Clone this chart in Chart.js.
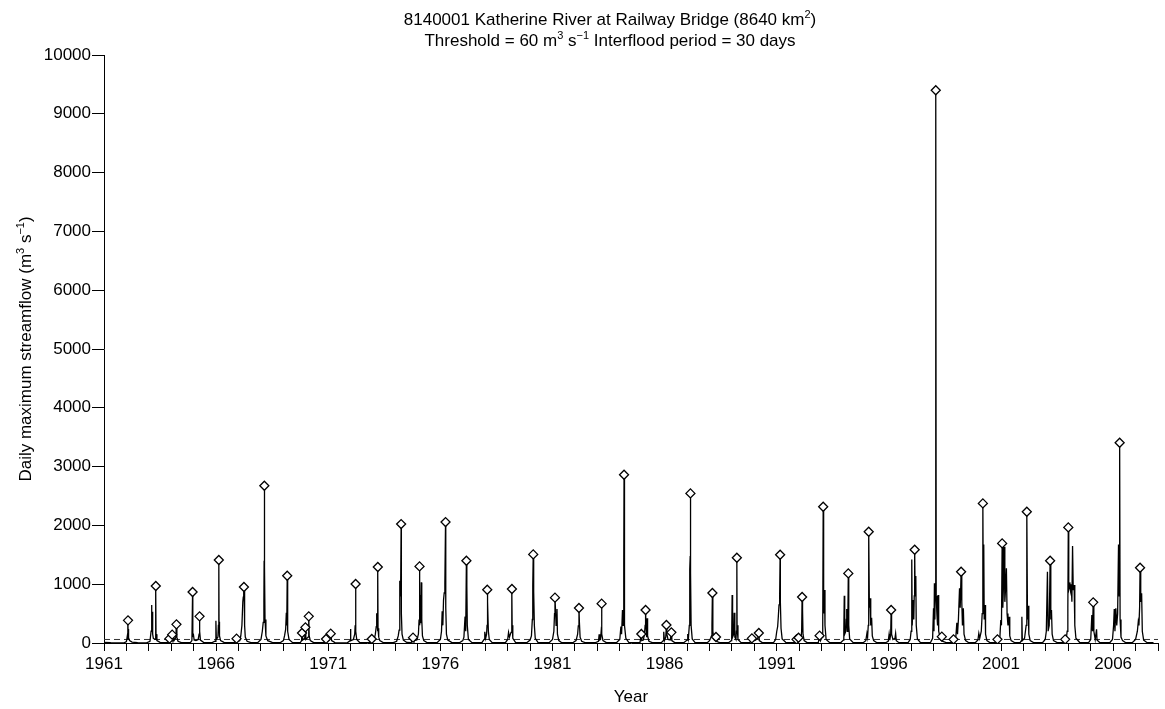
<!DOCTYPE html>
<html>
<head>
<meta charset="utf-8">
<script src="https://cdn.jsdelivr.net/npm/chart.js@4.4.1/dist/chart.umd.min.js"></script>
<style>
  html, body { margin: 0; padding: 0; background: #fff; }
  #wrap { width: 1165px; height: 709px; position: relative; }
</style>
</head>
<body>
<div id="wrap"><canvas id="streamflow"></canvas></div>
<script>
// Daily maximum streamflow, [decimal year, m3/s]
const flows1960s = [
  [1961.00, 12], [1961.30, 5], [1961.90, 3],
  [1962.00, 25], [1962.04, 120], [1962.055, 60], [1962.075, 200], [1962.09, 240], [1962.10, 90], [1962.14, 40], [1962.25, 15], [1962.50, 4],
  [1962.90, 3], [1963.05, 30], [1963.10, 200], [1963.12, 646], [1963.135, 300], [1963.15, 530], [1963.17, 150], [1963.20, 80], [1963.28, 60], [1963.30, 200], [1963.32, 150], [1963.36, 40], [1963.50, 10],
  [1963.85, 5], [1963.90, 30], [1963.94, 40], [1964.00, 60], [1964.07, 50], [1964.10, 80], [1964.12, 40], [1964.20, 90], [1964.25, 100], [1964.30, 30], [1964.45, 6],
  [1964.85, 5], [1964.92, 40], [1964.96, 120], [1964.99, 136], [1965.02, 50], [1965.10, 40], [1965.20, 60], [1965.24, 150], [1965.27, 200], [1965.30, 50], [1965.45, 8],
  [1965.80, 4], [1965.95, 30], [1965.99, 380], [1966.01, 60], [1966.08, 100], [1966.10, 300], [1966.13, 360], [1966.15, 120], [1966.20, 40], [1966.35, 10],
  [1966.80, 4], [1966.88, 30], [1966.93, 30], [1967.05, 40], [1967.10, 120], [1967.15, 300], [1967.19, 700], [1967.21, 780], [1967.22, 850], [1967.25, 900], [1967.27, 300], [1967.30, 100], [1967.38, 30], [1967.55, 6],
  [1967.85, 5], [1968.00, 60], [1968.06, 200], [1968.10, 350], [1968.13, 700], [1968.14, 1400], [1968.155, 1410], [1968.165, 1300], [1968.18, 400], [1968.22, 120], [1968.30, 40], [1968.50, 10],
  [1968.85, 4], [1969.00, 40], [1969.05, 120], [1969.10, 230], [1969.13, 515], [1969.15, 300], [1969.18, 500], [1969.20, 200], [1969.25, 60], [1969.40, 10],
  [1969.75, 4], [1969.81, 40], [1969.85, 50], [1969.95, 80],
];

const flows1970s = [
  [1970.00, 60], [1970.10, 100], [1970.15, 120], [1970.20, 40], [1970.35, 6],
  [1970.85, 5], [1970.95, 30], [1971.05, 50], [1971.15, 40], [1971.30, 6],
  [1971.85, 3], [1971.97, 40], [1971.99, 238], [1972.01, 40], [1972.12, 60], [1972.18, 150], [1972.20, 300], [1972.23, 200], [1972.27, 60], [1972.40, 8],
  [1972.85, 5], [1972.97, 40], [1973.05, 60], [1973.10, 150], [1973.14, 280], [1973.16, 505], [1973.18, 360], [1973.20, 200], [1973.22, 250], [1973.25, 100], [1973.30, 40], [1973.45, 8],
  [1973.90, 5], [1974.05, 30], [1974.12, 120], [1974.16, 220], [1974.19, 1060], [1974.21, 800], [1974.23, 1014], [1974.26, 500], [1974.29, 150], [1974.35, 50], [1974.50, 10],
  [1974.70, 6], [1974.82, 40], [1974.95, 50], [1975.02, 150], [1975.05, 400], [1975.08, 300], [1975.10, 816], [1975.12, 334], [1975.15, 1031], [1975.17, 400], [1975.20, 120], [1975.26, 40], [1975.40, 8],
  [1975.85, 5], [1976.00, 60], [1976.05, 200], [1976.08, 540], [1976.11, 300], [1976.14, 730], [1976.17, 850], [1976.20, 1003], [1976.24, 600], [1976.27, 150], [1976.33, 50], [1976.50, 10],
  [1976.85, 5], [1977.00, 40], [1977.05, 100], [1977.10, 448], [1977.13, 200], [1977.18, 975], [1977.20, 300], [1977.25, 60], [1977.40, 10],
  [1977.85, 5], [1977.95, 60], [1977.98, 190], [1978.02, 80], [1978.06, 150], [1978.08, 300], [1978.10, 800], [1978.12, 700], [1978.14, 200], [1978.18, 60], [1978.30, 10],
  [1978.90, 5], [1979.00, 60], [1979.04, 180], [1979.08, 100], [1979.15, 180], [1979.18, 300], [1979.20, 300], [1979.23, 80], [1979.35, 10],
  [1979.85, 5],
];

const flows1980s = [
  [1980.00, 50], [1980.06, 120], [1980.10, 400], [1980.12, 985], [1980.15, 900], [1980.17, 880], [1980.19, 300], [1980.23, 80], [1980.35, 12],
  [1980.85, 5], [1981.00, 60], [1981.06, 200], [1981.09, 500], [1981.13, 600], [1981.16, 300], [1981.20, 578], [1981.22, 150], [1981.28, 40], [1981.40, 8],
  [1981.90, 4], [1982.05, 40], [1982.12, 150], [1982.15, 290], [1982.20, 345], [1982.23, 100], [1982.30, 30], [1982.45, 6],
  [1982.90, 4], [1983.05, 30], [1983.08, 147], [1983.10, 40], [1983.12, 147], [1983.14, 50], [1983.17, 200], [1983.20, 150], [1983.25, 40], [1983.40, 6],
  [1983.85, 5], [1984.00, 60], [1984.05, 280], [1984.08, 150], [1984.12, 560], [1984.15, 300], [1984.17, 1003], [1984.185, 1382], [1984.20, 1000], [1984.22, 300], [1984.27, 80], [1984.40, 12],
  [1984.90, 5], [1984.98, 40], [1985.05, 50], [1985.10, 150], [1985.13, 300], [1985.17, 278], [1985.20, 100], [1985.22, 420], [1985.24, 120], [1985.30, 30], [1985.45, 6],
  [1985.85, 4], [1985.94, 40], [1985.96, 190], [1985.99, 40], [1986.05, 100], [1986.10, 150], [1986.15, 60], [1986.25, 50], [1986.32, 40], [1986.45, 6],
  [1986.85, 4], [1987.00, 50], [1987.03, 153], [1987.06, 80], [1987.10, 300], [1987.12, 1252], [1987.14, 1478], [1987.16, 1200], [1987.18, 300], [1987.23, 70], [1987.35, 12],
  [1987.90, 4], [1988.00, 40], [1988.05, 80], [1988.09, 120], [1988.11, 300], [1988.15, 200], [1988.20, 60], [1988.26, 40], [1988.31, 30], [1988.45, 6],
  [1988.85, 4], [1988.97, 40], [1988.99, 100], [1989.01, 816], [1989.03, 100], [1989.08, 150], [1989.10, 515], [1989.13, 100], [1989.18, 60], [1989.20, 200], [1989.23, 300], [1989.27, 60], [1989.40, 10],
  [1989.80, 4], [1989.92, 30],
];

const flows1990s = [
  [1990.05, 50], [1990.15, 80], [1990.22, 40], [1990.35, 6],
  [1990.85, 4], [1990.95, 60], [1991.00, 200], [1991.04, 280], [1991.07, 450], [1991.10, 650], [1991.13, 844], [1991.16, 700], [1991.19, 250], [1991.24, 70], [1991.40, 12],
  [1991.80, 4], [1991.92, 30], [1992.00, 40], [1992.08, 80], [1992.11, 200], [1992.15, 560], [1992.17, 150], [1992.22, 40], [1992.35, 6],
  [1992.85, 4], [1992.95, 40], [1993.02, 100], [1993.05, 300], [1993.09, 500], [1993.13, 900], [1993.15, 300], [1993.20, 60], [1993.35, 10],
  [1993.85, 4], [1993.97, 50], [1993.99, 200], [1994.01, 805], [1994.03, 150], [1994.08, 200], [1994.10, 400], [1994.12, 578], [1994.15, 200], [1994.17, 400], [1994.21, 300], [1994.25, 70], [1994.40, 10],
  [1994.85, 4], [1994.97, 40], [1995.02, 164], [1995.05, 100], [1995.08, 300], [1995.13, 600], [1995.16, 760], [1995.19, 300], [1995.23, 430], [1995.26, 120], [1995.32, 40], [1995.45, 8],
  [1995.85, 4], [1995.97, 30], [1996.01, 153], [1996.04, 50], [1996.08, 150], [1996.12, 150], [1996.18, 60], [1996.27, 80], [1996.30, 164], [1996.33, 40], [1996.45, 6],
  [1996.85, 4], [1996.95, 60], [1996.99, 200], [1997.02, 1422], [1997.04, 300], [1997.08, 731], [1997.11, 400], [1997.13, 800], [1997.17, 800], [1997.20, 1139], [1997.22, 300], [1997.27, 70], [1997.40, 10],
  [1997.85, 4], [1997.95, 80], [1997.99, 590], [1998.01, 200], [1998.03, 1015], [1998.05, 400], [1998.07, 1003], [1998.11, 800], [1998.14, 500], [1998.17, 300], [1998.19, 816], [1998.22, 200], [1998.30, 60], [1998.34, 40], [1998.39, 30], [1998.55, 8],
  [1998.80, 4], [1998.92, 30], [1998.98, 80], [1999.03, 345], [1999.06, 150], [1999.10, 400], [1999.15, 929], [1999.18, 600], [1999.25, 700], [1999.28, 300], [1999.32, 590], [1999.35, 150], [1999.42, 40], [1999.55, 8],
  [1999.85, 4], [1999.97, 50],
];

const flows2000s = [
  [2000.01, 164], [2000.05, 80], [2000.12, 200], [2000.16, 500], [2000.21, 800], [2000.23, 1677], [2000.25, 400], [2000.29, 646], [2000.31, 150], [2000.37, 40], [2000.50, 8],
  [2000.78, 4], [2000.88, 30], [2000.95, 100], [2000.99, 390], [2001.02, 300], [2001.08, 600], [2001.11, 1000], [2001.14, 1637], [2001.17, 700], [2001.20, 900], [2001.24, 1269], [2001.27, 500], [2001.31, 300], [2001.36, 448], [2001.39, 120], [2001.45, 40], [2001.60, 8],
  [2001.85, 5], [2001.91, 40], [2001.93, 448], [2001.95, 40], [2002.05, 80], [2002.12, 300], [2002.18, 400], [2002.21, 635], [2002.24, 150], [2002.30, 40], [2002.45, 8],
  [2002.85, 4], [2002.97, 60], [2003.02, 200], [2003.07, 1212], [2003.10, 200], [2003.15, 300], [2003.22, 400], [2003.25, 560], [2003.28, 150], [2003.34, 40], [2003.50, 8],
  [2003.78, 4], [2003.90, 40], [2003.95, 200], [2003.98, 600], [2004.02, 900], [2004.05, 950], [2004.07, 1031], [2004.10, 900], [2004.13, 1000], [2004.16, 700], [2004.19, 1648], [2004.22, 900], [2004.26, 986], [2004.29, 300], [2004.34, 80], [2004.50, 12],
  [2004.90, 4], [2005.00, 60], [2005.05, 476], [2005.08, 200], [2005.14, 200], [2005.20, 60], [2005.26, 232], [2005.28, 50], [2005.40, 8],
  [2005.85, 4], [2005.97, 60], [2006.02, 300], [2006.05, 578], [2006.08, 200], [2006.12, 590], [2006.16, 300], [2006.20, 500], [2006.24, 1677], [2006.27, 800], [2006.31, 400], [2006.35, 100], [2006.42, 40], [2006.55, 8],
  [2006.85, 4], [2007.00, 60], [2007.08, 200], [2007.12, 363], [2007.15, 300], [2007.18, 600], [2007.23, 700], [2007.27, 844], [2007.30, 200], [2007.36, 50], [2007.50, 10], [2007.80, 4],
];

// Independent flood peaks over the threshold, [decimal year, m3/s]
const floodPeaks = [
  [1962.07, 385], [1963.31, 969], [1963.92, 74], [1964.04, 142], [1964.23, 317], [1964.95, 867], [1965.26, 453],
  [1966.12, 1411], [1966.91, 74], [1967.24, 952], [1968.15, 2674], [1969.17, 1144], [1969.83, 170], [1969.98, 266],
  [1970.13, 453], [1970.90, 68], [1971.11, 159], [1972.22, 1003], [1972.94, 68], [1973.21, 1292], [1974.25, 2023],
  [1974.78, 91], [1975.07, 1303], [1976.23, 2057], [1977.16, 1399], [1978.09, 906], [1979.19, 918], [1980.14, 1507],
  [1981.11, 771], [1982.18, 595], [1983.19, 669], [1984.19, 2861], [1984.96, 153], [1985.15, 561], [1986.08, 306],
  [1986.30, 181], [1987.15, 2544], [1988.13, 850], [1988.29, 102], [1989.22, 1450], [1989.89, 79], [1990.20, 170],
  [1991.15, 1501], [1991.88, 62], [1991.97, 90], [1992.13, 782], [1992.91, 125], [1993.07, 2317], [1994.19, 1184],
  [1995.10, 1892], [1996.10, 561], [1997.15, 1586], [1998.09, 9400], [1998.36, 108], [1998.88, 62], [1999.22, 1212],
  [2000.19, 2374], [2000.84, 62], [2001.05, 1694], [2002.15, 2232], [2003.19, 1399], [2003.86, 62], [2004.00, 1966],
  [2005.11, 691], [2006.29, 3405], [2007.20, 1280],
];

const thresholdFlow = 60;
const yearStart = 1961;
const yearEnd = 2008;
const yearLabels = [1961, 1966, 1971, 1976, 1981, 1986, 1991, 1996, 2001, 2006];

const FONT = '"Liberation Sans", Arial, Helvetica, sans-serif';
const toPoint = ([x, y]) => ({ x, y });

// peaks sit on the hydrograph, so merge them into the daily series
const hydrograph = [...flows1960s, ...flows1970s, ...flows1980s, ...flows1990s, ...flows2000s, ...floodPeaks]
  .sort((a, b) => a[0] - b[0])
  .map(toPoint);

// Text with raised exponents, centred on x
const drawRich = (ctx, runs, x, y, size) => {
  const supSize = Math.round(size * 0.66);
  const widths = runs.map(r => {
    ctx.font = `${r.sup ? supSize : size}px ${FONT}`;
    return ctx.measureText(r.text).width;
  });
  let cx = x - widths.reduce((a, b) => a + b, 0) / 2;
  runs.forEach((r, i) => {
    ctx.font = `${r.sup ? supSize : size}px ${FONT}`;
    ctx.fillText(r.text, cx, r.sup ? y - size * 0.42 : y);
    cx += widths[i];
  });
};

const labelsPlugin = {
  id: 'labels',
  afterDraw(chart) {
    const { ctx } = chart;
    ctx.save();
    ctx.fillStyle = '#000';
    ctx.textAlign = 'left';
    ctx.textBaseline = 'alphabetic';
    drawRich(ctx, [
      { text: '8140001 Katherine River at Railway Bridge (8640 km' },
      { text: '2', sup: true },
      { text: ')' },
    ], 610, 25, 17);
    drawRich(ctx, [
      { text: 'Threshold = 60 m' },
      { text: '3', sup: true },
      { text: ' s' },
      { text: '\u22121', sup: true },
      { text: ' Interflood period = 30 days' },
    ], 610, 46, 17);
    const area = chart.chartArea;
    ctx.translate(31, (area.top + area.bottom) / 2);
    ctx.rotate(-Math.PI / 2);
    drawRich(ctx, [
      { text: 'Daily maximum streamflow (m' },
      { text: '3', sup: true },
      { text: ' s' },
      { text: '\u22121', sup: true },
      { text: ')' },
    ], 0, 0, 17);
    ctx.restore();
  },
};

new Chart(document.getElementById('streamflow'), {
  type: 'line',
  data: {
    datasets: [
      {
        // flood peak markers
        type: 'scatter',
        data: floodPeaks.map(toPoint),
        pointStyle: 'rectRot',
        pointRadius: 4.5,
        pointBackgroundColor: '#fff',
        pointBorderColor: '#000',
        pointBorderWidth: 1.3,
        order: 0,
      },
      {
        data: hydrograph,
        borderColor: '#000',
        borderWidth: 1.3,
        pointRadius: 0,
        tension: 0,
        fill: false,
        order: 1,
      },
      {
        // threshold
        data: [{ x: yearStart, y: thresholdFlow }, { x: yearEnd, y: thresholdFlow }],
        borderColor: '#333',
        borderWidth: 1,
        borderDash: [6, 4],
        pointRadius: 0,
        order: 2,
      },
    ],
  },
  options: {
    animation: false,
    responsive: true,
    maintainAspectRatio: false,
    devicePixelRatio: 1,
    layout: {
      padding: { top: 55, right: 7, left: 0, bottom: 0 },
    },
    scales: {
      x: {
        type: 'linear',
        min: yearStart,
        max: yearEnd,
        afterFit: (scale) => { scale.height = 66; },
        ticks: {
          stepSize: 1,
          autoSkip: false,
          maxTicksLimit: 100,
          maxRotation: 0,
          padding: 3,
          color: '#000',
          font: { family: FONT, size: 17 },
          callback: (v) => (yearLabels.includes(Math.round(v)) ? String(Math.round(v)) : ''),
        },
        grid: { drawOnChartArea: false, drawTicks: true, tickLength: 8, color: '#000', lineWidth: 1 },
        border: { display: true, color: '#000', width: 1 },
        title: {
          display: true,
          text: 'Year',
          color: '#000',
          font: { family: FONT, size: 17 },
          padding: { top: 0, bottom: 1 },
        },
      },
      y: {
        min: 0,
        max: 10000,
        afterFit: (scale) => { scale.width = 104; },
        ticks: {
          stepSize: 1000,
          padding: 1,
          color: '#000',
          font: { family: FONT, size: 17 },
          callback: (v) => String(v),
        },
        grid: { drawOnChartArea: false, drawTicks: true, tickLength: 12, color: '#000', lineWidth: 1 },
        border: { display: true, color: '#000', width: 1 },
      },
    },
    plugins: {
      legend: { display: false },
      tooltip: { enabled: false },
    },
  },
  plugins: [labelsPlugin],
});
</script>
</body>
</html>
